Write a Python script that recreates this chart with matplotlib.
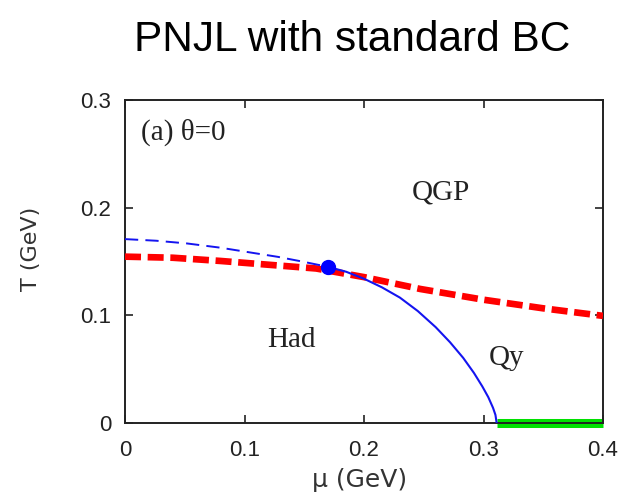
import matplotlib
matplotlib.use("Agg")
import matplotlib.pyplot as plt

# Data
mu_blue_dash = [0.0, 0.026, 0.0516, 0.08, 0.107, 0.128, 0.149, 0.170]
T_blue_dash = [0.1708, 0.1693, 0.1668, 0.1628, 0.158, 0.1543, 0.1498, 0.145]

mu_blue_solid = [0.170, 0.185, 0.200, 0.215, 0.230, 0.245, 0.260, 0.272,
                 0.283, 0.292, 0.299, 0.304, 0.308, 0.310, 0.311]
T_blue_solid = [0.145, 0.1405, 0.134, 0.126, 0.1165, 0.104, 0.089, 0.075,
                0.0605, 0.0465, 0.034, 0.024, 0.014, 0.0075, 0.0]

mu_red = [0.0, 0.04, 0.08, 0.12, 0.16, 0.20, 0.247, 0.30, 0.35, 0.40]
T_red = [0.1545, 0.1535, 0.1505, 0.147, 0.1435, 0.1355, 0.1245, 0.1145, 0.1065, 0.0995]

mu_green = [0.311, 0.40]
T_green = [0.0, 0.0]

cp_mu = [0.170]
cp_T = [0.145]

xticks = [0, 0.1, 0.2, 0.3, 0.4]
xticklabels = ["0", "0.1", "0.2", "0.3", "0.4"]
yticks = [0, 0.1, 0.2, 0.3]
yticklabels = ["0", "0.1", "0.2", "0.3"]

plt.rcParams['font.family'] = ['Liberation Sans', 'DejaVu Sans']

fig = plt.figure(figsize=(6.27, 5.01), dpi=100)
ax = fig.add_axes([125/627, 1 - 423/501, (603-125)/627, (423-100)/501])

ax.plot(mu_red, T_red, color='#ff0000', lw=4.8, dashes=(2.4, 1.0), solid_capstyle='butt', zorder=3)
ax.plot(mu_blue_dash, T_blue_dash, color='#1414f0', lw=1.4, dashes=(6.8, 3.7), zorder=4)
ax.plot(mu_blue_solid, T_blue_solid, color='#1414f0', lw=1.5, zorder=4)
ax.plot(mu_green, T_green, color='#00e000', lw=6.5, solid_capstyle='butt', zorder=2, clip_on=False)
ax.plot(cp_mu, cp_T, 'o', color='#0000ff', ms=10, zorder=5)

ax.set_xlim(0, 0.4)
ax.set_ylim(0, 0.3)
ax.set_xticks(xticks)
ax.set_xticklabels(xticklabels)
ax.set_yticks(yticks)
ax.set_yticklabels(yticklabels)
ax.tick_params(direction='in', top=True, right=True, length=6, width=1.2,
               labelsize=16, colors='#222222')
ax.tick_params(axis='x', pad=12)
ax.tick_params(axis='y', pad=10)
for s in ax.spines.values():
    s.set_linewidth(1.4)
    s.set_color('#222222')

serif = ['Liberation Serif', 'DejaVu Serif']
ax.text(0.013, 0.27, "(a) θ=0", fontsize=21, family=serif, ha='left', va='center', color='#222222')
ax.text(0.2644, 0.214, "QGP", fontsize=21, family=serif, ha='center', va='center', color='#222222')
ax.text(0.139, 0.077, "Had", fontsize=21, family=serif, ha='center', va='center', color='#222222')
ax.text(0.3195, 0.060, "Qy", fontsize=21, family=serif, ha='center', va='center', color='#222222')

lab_font = ['DejaVu Sans']
ax.set_xlabel("μ (GeV)", fontsize=18, color='#333333', family=lab_font)
ax.set_ylabel("T (GeV)", fontsize=16, color='#333333', family=lab_font)
ax.xaxis.set_label_coords(0.49, -0.176)
ax.xaxis.label.set_va('center')
ax.yaxis.set_label_coords(-0.197, 0.54)
ax.yaxis.label.set_va('center')

fig.text(352/627, 1 - 40/501, "PNJL with standard BC", fontsize=30.5, ha='center', va='center', color='black')

fig.savefig("out.png", dpi=100)
